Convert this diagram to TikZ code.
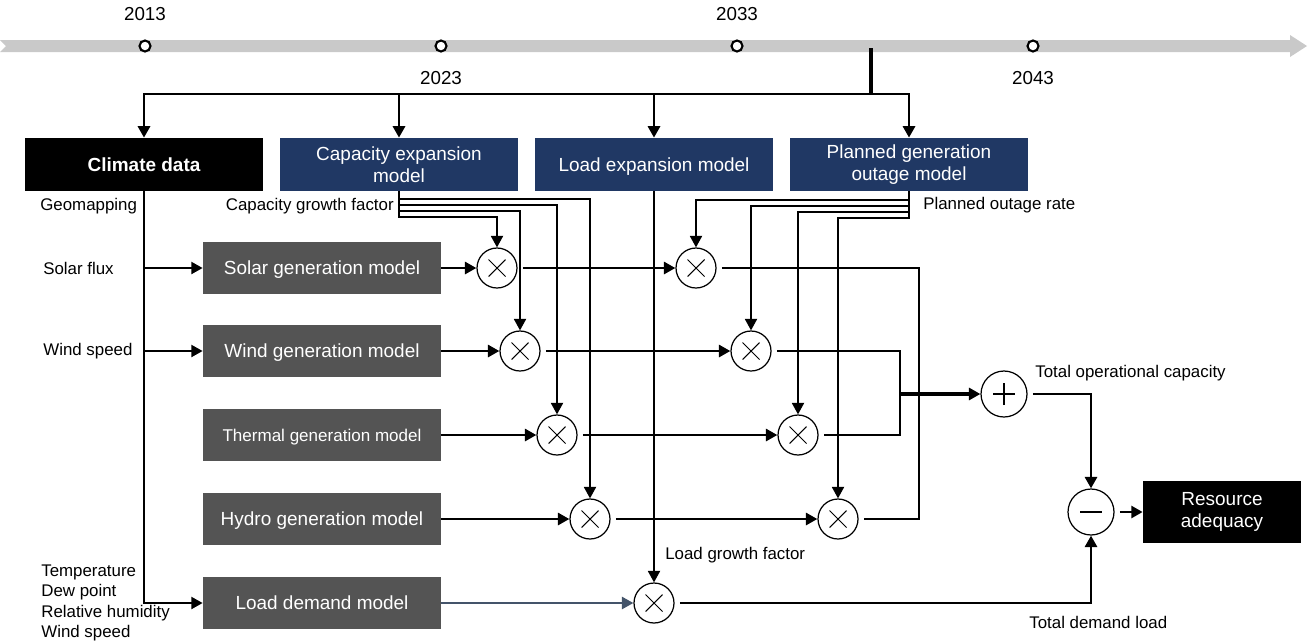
\documentclass[tikz,border=0pt]{standalone}
\usepackage{fontspec}
\setmainfont{Liberation Sans}
\usetikzlibrary{arrows.meta,calc}
\definecolor{navy}{HTML}{203864}
\definecolor{boxgray}{HTML}{545454}
\definecolor{tlgray}{HTML}{C9C9C9}
\definecolor{slate}{HTML}{44546A}
\begin{document}
\begin{tikzpicture}[x=0.02cm, y=-0.02cm,
  >={Triangle[length=6.5pt,width=6.8pt]},
  conn/.style={line width=1.6pt},
  thinconn/.style={line width=1.1pt},
  boxfont/.style={font=\fontsize{10.8}{12.5}\selectfont},
  navybox/.style={fill=navy, text=white, minimum width=4.76cm, minimum height=1.06cm, align=center, inner sep=0pt, boxfont},
  blackbox/.style={fill=black, text=white, minimum width=4.76cm, minimum height=1.06cm, align=center, inner sep=0pt, boxfont},
  graybox/.style={fill=boxgray, text=white, minimum width=4.76cm, minimum height=1.04cm, align=center, inner sep=0pt, text depth=0pt, boxfont},
  lab/.style={inner sep=0pt, font=\fontsize{9.6}{11.4}\selectfont},
  yearlab/.style={inner sep=0pt, font=\fontsize{10.7}{12}\selectfont},
  tick/.style={circle, draw=black, fill=white, line width=1.2pt, minimum size=0.22cm, inner sep=0pt},
  mult/.style={circle, draw=black, fill=white, line width=0.7pt, minimum size=0.8cm, inner sep=0pt,
    path picture={\draw[line width=0.6pt]
      ([shift={(-0.17cm,-0.17cm)}]path picture bounding box.center) -- ([shift={(0.17cm,0.17cm)}]path picture bounding box.center)
      ([shift={(-0.17cm,0.17cm)}]path picture bounding box.center) -- ([shift={(0.17cm,-0.17cm)}]path picture bounding box.center);}},
  sumop/.style={circle, draw=black, fill=white, line width=0.7pt, minimum size=0.92cm, inner sep=0pt,
    path picture={\draw[line width=0.7pt]
      ([shift={(-0.22cm,0cm)}]path picture bounding box.center) -- ([shift={(0.22cm,0cm)}]path picture bounding box.center)
      ([shift={(0cm,-0.22cm)}]path picture bounding box.center) -- ([shift={(0cm,0.22cm)}]path picture bounding box.center);}},
  subop/.style={circle, draw=black, fill=white, line width=0.7pt, minimum size=0.92cm, inner sep=0pt,
    path picture={\draw[line width=1.2pt]
      ([shift={(-0.22cm,0cm)}]path picture bounding box.center) -- ([shift={(0.22cm,0cm)}]path picture bounding box.center);}}
]
\useasboundingbox (0,0) rectangle (1314,643);

% timeline
\fill[tlgray] (0,40) -- (1290,40) -- (1290,35) -- (1307,46) -- (1290,57) -- (1290,52) -- (0,52) -- (6,46) -- cycle;
\coordinate (tap) at (871,48);
\coordinate (hub) at (871,94);
\draw[line width=2pt] (tap) -- (hub);
\node[tick] (t13) at (145,46) {};
\node[tick] (t23) at (441,46) {};
\node[tick] (t33) at (737,46) {};
\node[tick] (t43) at (1033,46) {};
\node[yearlab] (y13) at (145,14) {2013};
\node[yearlab] (y23) at (441,78) {2023};
\node[yearlab] (y33) at (737,14) {2033};
\node[yearlab] (y43) at (1033,78) {2043};

% top boxes
\node[blackbox, text depth=0pt, font=\bfseries\fontsize{10.8}{12.5}\selectfont] (climate) at (144,164.5) {Climate data};
\node[navybox] (cap) at (399,164.5) {Capacity expansion\\model};
\node[navybox, text depth=0pt] (lexp) at (654,164.5) {Load expansion model};
\node[navybox] (plan) at (909,164.5) {Planned generation\\outage model};

\draw[conn,->] (hub) -| (climate.north);
\draw[conn,->] (hub) -| (cap.north);
\draw[conn,->] (hub) -| (lexp.north);
\draw[conn,->] (hub) -| (plan.north);

% model boxes
\node[graybox] (solar) at (322,268) {Solar generation model};
\node[graybox] (wind) at (322,351) {Wind generation model};
\node[graybox, font=\fontsize{9.7}{11}\selectfont] (thermal) at (322,435) {Thermal generation model};
\node[graybox] (hydro) at (322,519) {Hydro generation model};
\node[graybox] (load) at (322,603) {Load demand model};

% multipliers
\node[mult] (s1) at (497,268) {};
\node[mult] (w1) at (520,351) {};
\node[mult] (t1) at (557,435) {};
\node[mult] (h1) at (590,519) {};
\node[mult] (l1) at (654,603) {};
\node[mult] (s2) at (696,268) {};
\node[mult] (w2) at (751,351) {};
\node[mult] (t2) at (798,435) {};
\node[mult] (h2) at (838,519) {};
\node[sumop] (plus) at (1004,394) {};
\node[subop] (minus) at (1091,512) {};
\node[blackbox, minimum width=3.16cm, minimum height=1.24cm] (res) at (1222,512) {Resource\\adequacy};

% labels
\node[lab, anchor=west] (geo) at (40,206) {Geomapping};
\node[lab, anchor=west] (sflux) at (43,268) {Solar flux};
\node[lab, anchor=west] (wsp) at (43,351) {Wind speed};
\node[lab, anchor=north west, align=left] (wx) at (41,565) {Temperature\\Dew point\\Relative humidity\\Wind speed};
\node[lab, anchor=east] (cgf) at (394,206) {Capacity growth factor};
\node[lab, anchor=west] (por) at (923,205) {Planned outage rate};
\node[lab, anchor=west] (lgf) at (665,555) {Load growth factor};
\node[lab, anchor=west] (toc) at (1035,373) {Total operational capacity};
\node[lab, anchor=west] (tdl) at (1029,622) {Total demand load};

% climate feeds
\draw[line width=1.4pt,->] (climate.south) |- (load.west);
\draw[line width=1.4pt,->] (climate.south |- solar.west) -- (solar.west);
\draw[line width=1.4pt,->] (climate.south |- wind.west) -- (wind.west);

% capacity growth factor bundle
\draw[thinconn,->] (cap.south) |- (s1.north |- 0,217) -- (s1.north);
\draw[thinconn,->] (cap.south) |- (w1.north |- 0,211) -- (w1.north);
\draw[thinconn,->] (cap.south) |- (t1.north |- 0,205) -- (t1.north);
\draw[thinconn,->] (cap.south) |- (h1.north |- 0,199) -- (h1.north);

% planned outage bundle
\draw[thinconn,->] (plan.south) |- (s2.north |- 0,200) -- (s2.north);
\draw[thinconn,->] (plan.south) |- (w2.north |- 0,206) -- (w2.north);
\draw[thinconn,->] (plan.south) |- (t2.north |- 0,212) -- (t2.north);
\draw[thinconn,->] (plan.south) |- (h2.north |- 0,218) -- (h2.north);

% load growth factor
\draw[thinconn,->] (lexp.south) -- (l1.north);

% boxes to first multipliers
\draw[conn,->] (solar.east) -- (s1.west);
\draw[conn,->] (wind.east) -- (w1.west);
\draw[conn,->] (thermal.east) -- (t1.west);
\draw[conn,->] (hydro.east) -- (h1.west);
\draw[line width=1.4pt,slate,->] (load.east) -- (l1.west);

% first to second multipliers
\draw[conn,->,shorten <=3pt] (s1.east) -- (s2.west);
\draw[conn,->,shorten <=3pt] (w1.east) -- (w2.west);
\draw[conn,->,shorten <=3pt] (t1.east) -- (t2.west);
\draw[conn,->,shorten <=3pt] (h1.east) -- (h2.west);

% merging outputs
\coordinate (jr) at (919,0);
\coordinate (jl) at (900,0);
\draw[conn,shorten <=3pt,shorten >=3pt] (s2.east) -| (jr |- h2.east) -- (h2.east);
\draw[conn,shorten <=3pt,shorten >=3pt] (w2.east) -| (jl |- t2.east) -- (t2.east);
\draw[line width=2.1pt,->] (jl |- plus.west) -- (plus.west);
\draw[conn,->,shorten <=3pt] (plus.east) -| (minus.north);
\draw[conn,->,shorten <=3pt] (l1.east) -| (minus.south);
\draw[conn,->,shorten <=3pt] (minus.east) -- (res.west);
\end{tikzpicture}
\end{document}
